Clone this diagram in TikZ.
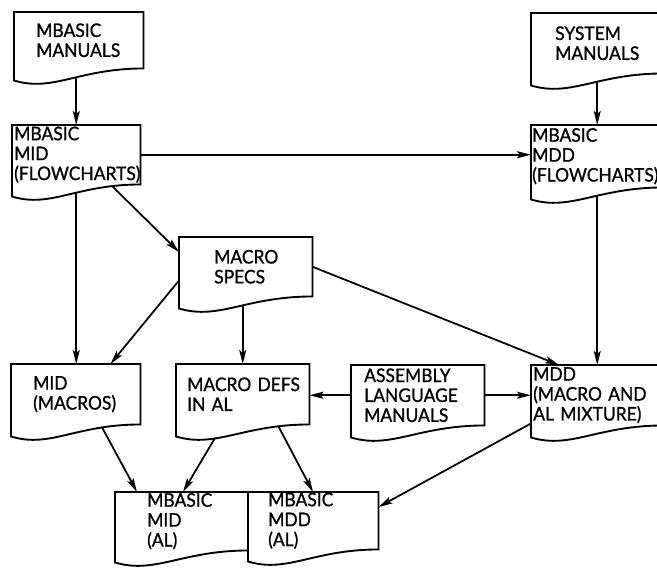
\documentclass[tikz,border=0pt]{standalone}
\usepackage{fontspec}
\newfontfamily\docfont{Lato}[FakeBold=0.9, FakeStretch=0.93]
\usetikzlibrary{calc,arrows.meta}
\pgfdeclarelayer{arrows}
\pgfdeclarelayer{docs}
\pgfsetlayers{arrows,docs,main}
\newcommand\docoutline[1]{%
  \draw[docline] (#1.north west) -- (#1.north east) -- (#1.south east)
    .. controls ($(#1.south west)!0.5!(#1.south east)$) and ($(#1.south west)!0.3!(#1.south east)+(0,24)$)
    .. ($(#1.south west)+(0,12)$) -- cycle;}

\begin{document}
\begin{tikzpicture}[x=0.03cm, y=-0.03cm]
   \tikzstyle{doc}=[anchor=north west, align=left, inner ysep=0pt, font=\docfont\fontsize{16}{17}\selectfont]
   \tikzstyle{docline}=[draw, fill=white, line width=1.6pt]
   \tikzstyle{arr}=[line width=1.5pt, -{Stealth[length=12pt,width=6pt,inset=2.5pt]}]
   \tikzset{docbox/.style n args={3}{minimum width=#1*0.03cm, minimum height=#2*0.03cm, inner xsep=#3*0.03cm,
      /utils/exec={\pgfmathsetlengthmacro\doctw{(#1-2*#3)*0.03cm}}, text width=\doctw}}
   \useasboundingbox (0,0) rectangle (657,570);

\node[doc, docbox={129}{56}{22}] (manA) at (14,12) {MBASIC\\MANUALS};
\node[doc, docbox={128}{59}{2}] (midF) at (12,125) {MBASIC\\MID\\(FLOWCHARTS)};
\node[doc, docbox={132}{60}{24}] (sysM) at (531,13) {SYSTEM\\MANUALS};
\node[doc, docbox={132}{62}{1}] (mddF) at (531,125) {MBASIC\\MDD\\(FLOWCHARTS)};
\node[doc, docbox={133}{59}{35}] (spec) at (179,237) {MACRO\\SPECS};
\node[doc, docbox={129}{60}{22}] (midM) at (11,364) {MID\\(MACROS)};
\node[doc, docbox={133}{60}{11}] (defs) at (176,364) {MACRO~DEFS\\IN~AL};
\node[doc, docbox={133}{60}{13}] (asm) at (351,365) {ASSEMBLY\\LANGUAGE\\MANUALS};
\node[doc, docbox={132}{60}{2}] (mddM) at (531,365) {MDD\\(MACRO~AND\\AL~MIXTURE)};
\node[doc, docbox={133}{58}{32}] (midA) at (115,492) {MBASIC\\MID\\(AL)};
\node[doc, docbox={130}{57}{20}] (mddA) at (248,492) {MBASIC\\MDD\\(AL)};

\begin{pgfonlayer}{docs}
   \foreach \n in {manA,midF,sysM,mddF,spec,midM,defs,asm,mddM,midA,mddA}
      {\docoutline{\n}}
\end{pgfonlayer}

\begin{pgfonlayer}{arrows}
   \draw[arr] (manA.south -| midF.north) -- (midF.north);
   \draw[arr] (midF.east) -- (midF.east -| mddF.west);
   \draw[arr] (sysM.south) -- (sysM.south |- mddF.north);
   \draw[arr] (midF.south) -- (midF.south |- midM.north);
   \draw[arr] ($(midF.south east)+(-30,0)$) -- ($(spec.north west)+(0,15)$);
   \draw[arr] ($(spec.south west)+(0,-16)$) -- ($(midM.north east)+(-30,0)$);
   \draw[arr] (spec.south -| defs.north) -- (defs.north);
   \draw[arr] (spec.east) -- ($(mddM.north west)+(28,0)$);
   \draw[arr] (mddF.south) -- (mddM.north);
   \draw[arr] (asm.west) -- (asm.west -| defs.east);
   \draw[arr] (asm.east) -- (asm.east -| mddM.west);
   \draw[arr] ($(midM.south east)+(-40,0)$) -- ($(midA.north west)+(22,0)$);
   \draw[arr] ($(defs.south west)+(47,0)$) -- ($(midA.north west)+(68,0)$);
   \draw[arr] ($(defs.south east)+(-32,0)$) -- ($(mddA.north west)+(65,0)$);
   \draw[arr] ($(mddM.south west)+(0,-2)$) -- ($(mddA.north east)+(0,15)$);
\end{pgfonlayer}

\end{tikzpicture}
\end{document}
